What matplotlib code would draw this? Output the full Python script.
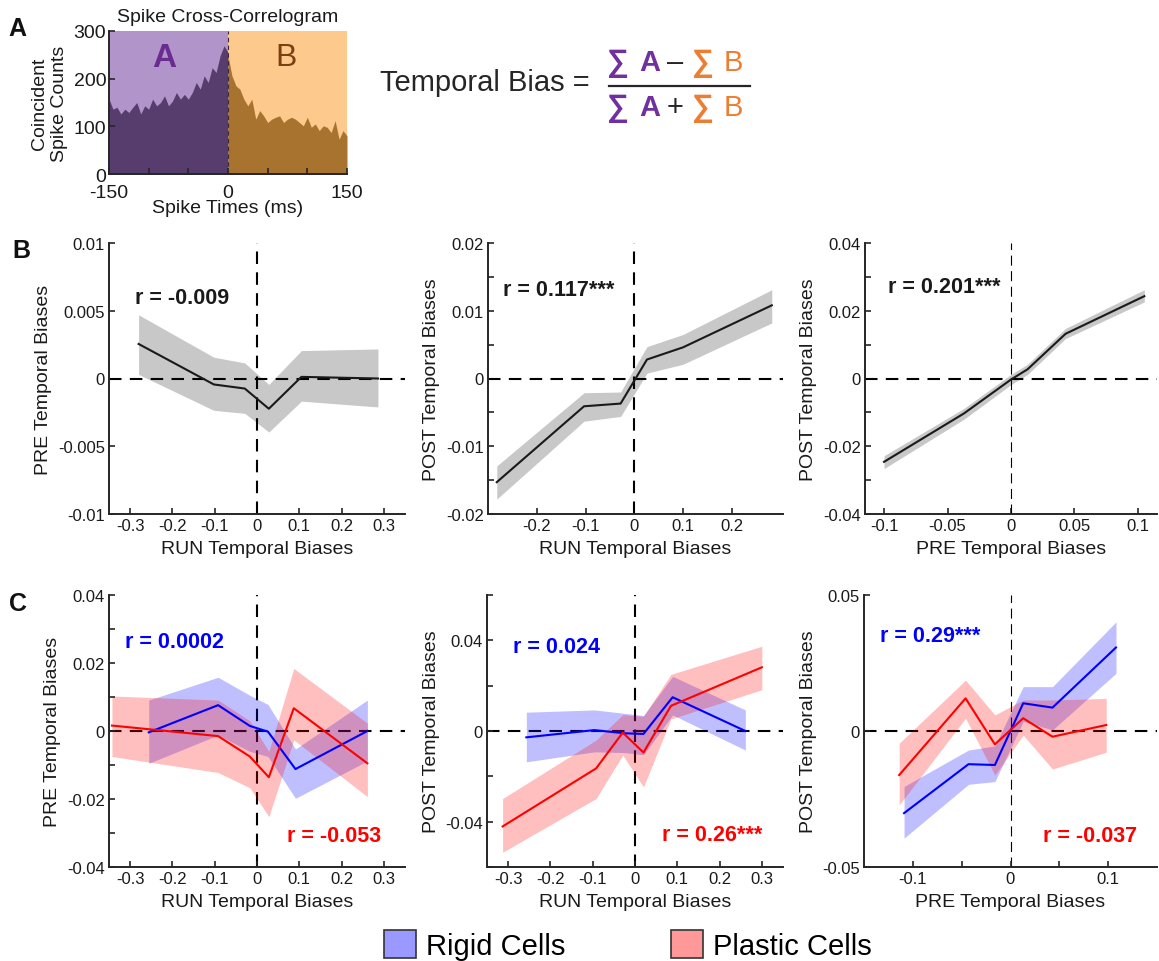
import matplotlib
matplotlib.use("Agg")
import matplotlib.pyplot as plt
from matplotlib.lines import Line2D
from matplotlib.patches import Patch

plt.rcParams['font.family'] = ['Liberation Sans', 'DejaVu Sans']

# ---------------- data ----------------
# panel A: cross-correlogram (5 ms steps)
ccg_t_a = [-150, -145, -140, -135, -130, -125, -120, -115, -110, -105, -100, -95, -90, -85, -80,
           -75, -70, -65, -60, -55, -50, -45, -40, -35, -30, -25, -20, -15, -10, -5, 0]
ccg_a = [157, 136, 140, 126, 136, 129, 140, 150, 126, 143, 136, 157, 143, 150, 164,
         143, 153, 171, 157, 167, 157, 171, 192, 178, 206, 192, 223, 213, 248, 269, 255]
ccg_t_b = [0, 5, 10, 15, 20, 25, 30, 35, 40, 45, 50, 55, 60, 65, 70, 75,
           80, 85, 90, 95, 100, 105, 110, 115, 120, 125, 130, 135, 140, 145, 150]
ccg_b = [248, 206, 185, 178, 157, 143, 157, 115, 133, 122, 108, 115, 119, 122, 108, 115,
         119, 115, 108, 101, 119, 98, 105, 91, 101, 98, 87, 112, 73, 91, 80]

# panel B: all cells (mean, band upper, band lower)
b1_x = [-0.28, -0.102, -0.029, 0.028, 0.105, 0.286]
b1_y = [0.00255, -0.00044, -0.00074, -0.00223, 0.00012, 0.0]
b1_hi = [0.0047, 0.00157, 0.00115, -0.00044, 0.00206, 0.00218]
b1_lo = [0.0003, -0.00235, -0.00257, -0.00395, -0.00167, -0.0021]

b2_x = [-0.282, -0.103, -0.028, 0.026, 0.1, 0.282]
b2_y = [-0.0153, -0.0041, -0.0037, 0.0028, 0.0046, 0.0108]
b2_hi = [-0.0129, -0.0021, -0.002, 0.0047, 0.0065, 0.0131]
b2_lo = [-0.0178, -0.0063, -0.0056, 0.0008, 0.0021, 0.0082]

b3_x = [-0.1, -0.037, 0.0, 0.013, 0.043, 0.105]
b3_y = [-0.0246, -0.0103, -0.0003, 0.0027, 0.0132, 0.0243]
b3_hi = [-0.0228, -0.0088, 0.0012, 0.0042, 0.0148, 0.0262]
b3_lo = [-0.0266, -0.0120, -0.0018, 0.0012, 0.0118, 0.0226]

# panel C: rigid vs plastic cells
c1_rig_x = [-0.256, -0.092, -0.017, 0.026, 0.091, 0.261]
c1_rig_y = [-0.0004, 0.0076, 0.0015, -0.0002, -0.0112, 0.0]
c1_rig_hi = [0.0091, 0.0158, 0.0105, 0.0078, -0.0053, 0.0091]
c1_rig_lo = [-0.0095, -0.0012, -0.006, -0.0075, -0.0198, -0.0088]
c1_pla_x = [-0.343, -0.092, -0.017, 0.028, 0.087, 0.261]
c1_pla_y = [0.0016, -0.0015, -0.0075, -0.0136, 0.0067, -0.0095]
c1_pla_hi = [0.0103, 0.0091, 0.003, -0.006, 0.0184, 0.0023]
c1_pla_lo = [-0.0075, -0.0122, -0.0167, -0.0252, -0.0026, -0.0193]

c2_rig_x = [-0.257, -0.096, -0.025, 0.02, 0.089, 0.261]
c2_rig_y = [-0.0028, 0.0004, -0.001, -0.0013, 0.0149, 0.0]
c2_rig_hi = [0.0083, 0.0093, 0.0078, 0.0068, 0.0241, 0.0093]
c2_rig_lo = [-0.0136, -0.0092, -0.0095, -0.0105, 0.0071, -0.0084]
c2_pla_x = [-0.313, -0.092, -0.029, 0.02, 0.085, 0.3]
c2_pla_y = [-0.0421, -0.0165, -0.0007, -0.0095, 0.0111, 0.0281]
c2_pla_hi = [-0.0298, -0.004, 0.0072, 0.0065, 0.025, 0.0374]
c2_pla_lo = [-0.0535, -0.0298, -0.0106, -0.0247, 0.0053, 0.0182]

c3_rig_x = [-0.109, -0.043, -0.016, 0.013, 0.043, 0.108]
c3_rig_y = [-0.0302, -0.0122, -0.0125, 0.0102, 0.0086, 0.0307]
c3_rig_hi = [-0.0204, -0.007, -0.0055, 0.0163, 0.0163, 0.0401]
c3_rig_lo = [-0.0394, -0.0196, -0.0186, 0.0035, 0.0004, 0.0212]
c3_pla_x = [-0.114, -0.046, -0.016, 0.013, 0.043, 0.098]
c3_pla_y = [-0.0162, 0.012, -0.0049, 0.0047, -0.0021, 0.0022]
c3_pla_hi = [-0.0045, 0.0187, 0.0059, 0.0114, 0.0114, 0.012]
c3_pla_lo = [-0.0272, 0.0047, -0.0162, -0.0015, -0.014, -0.0078]

# ---------------- figure ----------------
W, H = 1159, 962
fig = plt.figure(figsize=(W / 100, H / 100), dpi=100)
AX_COL = '#262626'


def add_ax(left, top, right, bottom):
    # axes placed from pixel box of the reference
    return fig.add_axes([left / W, 1 - bottom / H, (right - left) / W, (bottom - top) / H])


def style(ax, xlim, ylim, xticks, xlabs, yticks, ylabs, xlabel, ylabel, size=12, xpad=4):
    ax.set_xlim(xlim)
    ax.set_ylim(ylim)
    for s in ('top', 'right'):
        ax.spines[s].set_visible(False)
    for s in ('left', 'bottom'):
        ax.spines[s].set_color(AX_COL)
        ax.spines[s].set_linewidth(1.4)
    ax.set_xticks(xticks)
    ax.set_xticklabels(xlabs)
    ax.set_yticks(yticks)
    ax.set_yticklabels(ylabs)
    ax.tick_params(direction='in', length=4, width=1.2, colors=AX_COL, labelsize=size,
                   labelcolor='#1a1a1a', pad=3)
    ax.set_xlabel(xlabel, fontsize=14, color='#1a1a1a', labelpad=xpad)
    ax.set_ylabel(ylabel, fontsize=14, color='#1a1a1a', labelpad=4)


def zero_lines(ax, thin_v=False):
    ax.axhline(0, color='k', lw=1.5, ls=(0, (6, 4)), zorder=0.5)
    if thin_v:
        ax.axvline(0, color='k', lw=0.8, ls=(0, (9, 5)), zorder=0.5)
    else:
        ax.axvline(0, color='k', lw=1.5, ls=(0, (6, 4)), zorder=0.5)


def r_text(ax, x, y, s, color):
    ax.text(x, y, s, transform=ax.transAxes, fontsize=15.5, fontweight='bold',
            color=color, ha='left', va='center')


# ---------------- panel A ----------------
axA = add_ax(109, 32, 347, 175)
axA.axvspan(-150, 0, color='#b194c9', lw=0)
axA.axvspan(0, 150, color='#fdc98c', lw=0)
axA.fill_between(ccg_t_a, 0, ccg_a, color='#573c6e', lw=0)
axA.fill_between(ccg_t_b, 0, ccg_b, color='#a7732f', lw=0)
axA.axvline(0, color='#3a2a3a', lw=0.8, ls=(0, (4, 3)))
axA.text(-81, 245, 'A', fontsize=24, fontweight='bold', color='#6a2c91', ha='center', va='center')
axA.text(73, 245, 'B', fontsize=23, color='#7b3f12', ha='center', va='center')
style(axA, (-150, 150), (0, 300), [-150, -100, -50, 0, 50, 100, 150],
      ['-150', '', '', '0', '', '', '150'], [0, 100, 200, 300], ['0', '100', '200', '300'],
      'Spike Times (ms)', 'Coincident\nSpike Counts', size=14, xpad=-1)
axA.tick_params(axis='x', pad=7)
axA.tick_params(axis='y', pad=2)
axA.set_title('Spike Cross-Correlogram', fontsize=14, color='#1a1a1a', pad=7)

# formula
def ftext(px, py, s, color='#262626', weight='normal', size=21):
    fig.text(px / W, 1 - py / H, s, color=color, fontweight=weight, fontsize=size,
             ha='left', va='center')

PURPLE, ORANGE = '#7030a0', '#ed7d31'
ftext(380, 83, 'Temporal Bias =')
for py, op in ((63, '\u2013'), (108, '+')):
    ftext(607, py, '\u2211', PURPLE, 'bold', size=22)
    ftext(639, py, 'A', PURPLE, 'bold')
    ftext(667, py, op)
    ftext(692, py, '\u2211', ORANGE, 'bold', size=22)
    ftext(724, py, 'B', ORANGE)
fig.add_artist(Line2D([609 / W, 750 / W], [1 - 87 / H, 1 - 87 / H], color='#262626', lw=1.6))

# ---------------- panel B ----------------
GRAY_BAND, LINE_K = '#c8c8c8', '#1a1a1a'
b_specs = [
    (add_ax(109, 244, 405, 515), b1_x, b1_y, b1_hi, b1_lo),
    (add_ax(488, 244, 783, 515), b2_x, b2_y, b2_hi, b2_lo),
    (add_ax(865, 244, 1157, 515), b3_x, b3_y, b3_hi, b3_lo),
]
for ax, x, y, hi, lo in b_specs:
    ax.fill_between(x, lo, hi, color=GRAY_BAND, lw=0, zorder=0.3)
    ax.plot(x, y, color=LINE_K, lw=1.5, zorder=3)

axB1, axB2, axB3 = [s[0] for s in b_specs]
zero_lines(axB1)
zero_lines(axB2)
zero_lines(axB3, thin_v=True)
for ax in (axB1, axB2, axB3):
    for ln in ax.lines[-2:]:
        ln.set_zorder(2)

style(axB1, (-0.35, 0.35), (-0.01, 0.01),
      [-0.3, -0.2, -0.1, 0, 0.1, 0.2, 0.3], ['-0.3', '-0.2', '-0.1', '0', '0.1', '0.2', '0.3'],
      [-0.01, -0.005, 0, 0.005, 0.01], ['-0.01', '-0.005', '0', '0.005', '0.01'],
      'RUN Temporal Biases', 'PRE Temporal Biases', xpad=5)
style(axB2, (-0.3, 0.305), (-0.02, 0.02),
      [-0.2, -0.1, 0, 0.1, 0.2], ['-0.2', '-0.1', '0', '0.1', '0.2'],
      [-0.02, -0.015, -0.01, -0.005, 0, 0.005, 0.01, 0.015, 0.02],
      ['-0.02', '', '-0.01', '', '0', '', '0.01', '', '0.02'],
      'RUN Temporal Biases', 'POST Temporal Biases', xpad=5)
style(axB3, (-0.115, 0.115), (-0.04, 0.04),
      [-0.1, -0.05, 0, 0.05, 0.1], ['-0.1', '-0.05', '0', '0.05', '0.1'],
      [-0.04, -0.03, -0.02, -0.01, 0, 0.01, 0.02, 0.03, 0.04],
      ['-0.04', '', '-0.02', '', '0', '', '0.02', '', '0.04'],
      'PRE Temporal Biases', 'POST Temporal Biases', xpad=5)
r_text(axB1, 0.088, 0.80, 'r = -0.009', LINE_K)
r_text(axB2, 0.05, 0.83, 'r = 0.117***', LINE_K)
r_text(axB3, 0.079, 0.84, 'r = 0.201***', LINE_K)

# ---------------- panel C ----------------
BLUE, RED = '#0000ff', '#ff0000'
c_specs = [
    (add_ax(109, 596, 405, 868),
     (c1_rig_x, c1_rig_y, c1_rig_hi, c1_rig_lo), (c1_pla_x, c1_pla_y, c1_pla_hi, c1_pla_lo)),
    (add_ax(487, 596, 783, 868),
     (c2_rig_x, c2_rig_y, c2_rig_hi, c2_rig_lo), (c2_pla_x, c2_pla_y, c2_pla_hi, c2_pla_lo)),
    (add_ax(864, 596, 1157, 868),
     (c3_rig_x, c3_rig_y, c3_rig_hi, c3_rig_lo), (c3_pla_x, c3_pla_y, c3_pla_hi, c3_pla_lo)),
]
for i, (ax, rig, pla) in enumerate(c_specs):
    zero_lines(ax, thin_v=(i == 2))
    for (x, y, hi, lo), col in ((rig, BLUE), (pla, RED)):
        ax.fill_between(x, lo, hi, color=col, alpha=0.25, lw=0)
        ax.plot(x, y, color=col, lw=1.5)

axC1, axC2, axC3 = [s[0] for s in c_specs]
style(axC1, (-0.35, 0.35), (-0.04, 0.04),
      [-0.3, -0.2, -0.1, 0, 0.1, 0.2, 0.3], ['-0.3', '-0.2', '-0.1', '0', '0.1', '0.2', '0.3'],
      [-0.04, -0.03, -0.02, -0.01, 0, 0.01, 0.02, 0.03, 0.04],
      ['-0.04', '', '-0.02', '', '0', '', '0.02', '', '0.04'],
      'RUN Temporal Biases', 'PRE Temporal Biases', xpad=5)
style(axC2, (-0.35, 0.35), (-0.06, 0.06),
      [-0.3, -0.2, -0.1, 0, 0.1, 0.2, 0.3], ['-0.3', '-0.2', '-0.1', '0', '0.1', '0.2', '0.3'],
      [-0.06, -0.04, -0.02, 0, 0.02, 0.04, 0.06],
      ['', '-0.04', '', '0', '', '0.04', ''],
      'RUN Temporal Biases', 'POST Temporal Biases', xpad=5)
style(axC3, (-0.15, 0.15), (-0.05, 0.05),
      [-0.1, -0.05, 0, 0.05, 0.1], ['-0.1', '', '0', '', '0.1'],
      [-0.05, 0, 0.05], ['-0.05', '0', '0.05'],
      'PRE Temporal Biases', 'POST Temporal Biases', xpad=5)
r_text(axC1, 0.054, 0.83, 'r = 0.0002', BLUE)
r_text(axC1, 0.60, 0.114, 'r = -0.053', RED)
r_text(axC2, 0.088, 0.81, 'r = 0.024', BLUE)
r_text(axC2, 0.59, 0.12, 'r = 0.26***', RED)
r_text(axC3, 0.055, 0.85, 'r = 0.29***', BLUE)
r_text(axC3, 0.61, 0.114, 'r = -0.037', RED)

# panel letters
for px, py, s in ((8, 29, 'A'), (12, 251, 'B'), (9, 604, 'C')):
    fig.text(px / W, 1 - py / H, s, fontsize=18, fontweight='bold', color='#111111',
             ha='left', va='center')

# legend
handles = [Patch(facecolor='#9999ff', edgecolor='#333333', lw=1.2, label='Rigid Cells'),
           Patch(facecolor='#ff9999', edgecolor='#333333', lw=1.2, label='Plastic Cells')]
fig.legend(handles=handles, loc='center', bbox_to_anchor=(628 / W, 1 - 946 / H), ncol=2,
           frameon=False, fontsize=21, handlelength=1.1, handleheight=1.1,
           handletextpad=0.35, columnspacing=3.6, borderpad=0, borderaxespad=0)

fig.savefig('out.png', dpi=100)
